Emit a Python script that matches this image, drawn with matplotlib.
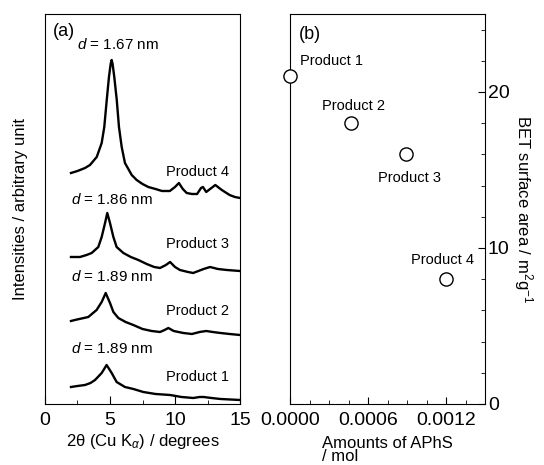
import numpy as np
import matplotlib
matplotlib.use('Agg')
import matplotlib.pyplot as plt
from matplotlib.ticker import MultipleLocator

plt.rcParams['font.family'] = ['Liberation Sans', 'DejaVu Sans']
plt.rcParams['mathtext.fontset'] = 'custom'
plt.rcParams['mathtext.rm'] = 'Liberation Sans'
plt.rcParams['mathtext.it'] = 'Liberation Sans:italic'

# XRD patterns (2theta / degrees, intensity in arbitrary units incl. offset)
tt4 = [2.0, 2.5, 3.08, 3.46, 3.98, 4.36, 4.56, 4.75, 4.92, 5.05, 5.13, 5.2, 5.33, 5.52, 5.69,
       5.9, 6.15, 6.67, 7.05, 7.5, 7.95, 8.5, 9.0, 9.6, 10.0, 10.3, 10.6, 10.9, 11.3, 11.7,
       12.0, 12.15, 12.4, 12.7, 13.1, 13.6, 14.2, 14.6, 15.0]
i4 = [231, 233, 236, 239, 247, 261, 277, 304, 327, 340, 344, 340, 327, 304, 277,
      257, 241, 229, 224, 220, 217, 215, 213, 213, 217, 221, 215, 211, 210, 210,
      216, 217, 212, 215, 219, 214, 209, 207, 206]

tt3 = [2.0, 2.69, 3.2, 3.59, 4.1, 4.36, 4.62, 4.79, 5.0, 5.26, 5.51, 6.03, 6.6, 7.18, 7.82,
       8.4, 8.85, 9.3, 9.62, 10.0, 10.38, 11.0, 11.4, 11.8, 12.2, 12.7, 13.3, 13.98, 15.0]
i3 = [147, 147, 149, 151, 157, 167, 181, 191, 181, 167, 157, 151, 147, 144, 140,
      137, 136, 139, 142, 137, 134, 132, 131, 133, 135, 137, 135, 134, 133]

tt2 = [2.0, 2.3, 3.33, 3.97, 4.36, 4.67, 5.0, 5.26, 5.64, 6.2, 6.79, 7.5, 8.2, 8.85, 9.2,
       9.49, 9.9, 10.64, 11.3, 11.9, 12.4, 12.9, 13.5, 14.2, 15.0]
i2 = [83, 84, 87, 94, 102, 111, 101, 92, 86, 82, 79, 75, 73, 72, 74,
      76, 73, 71, 70, 72, 73, 72, 71, 70, 69]

tt1 = [2.0, 2.5, 3.08, 3.5, 3.85, 4.36, 4.74, 5.13, 5.51, 6.15, 6.8, 7.56, 8.5, 9.62,
       10.5, 11.4, 11.9, 12.2, 12.8, 13.5, 15.0]
i1 = [17, 18, 19, 21, 24, 31, 39, 31, 22, 17, 15, 12, 10, 9,
      7, 6, 7, 7, 6, 5, 4]

# BET surface area vs amount of APhS
aphs = [0.0, 0.00047, 0.00089, 0.0012]
bet = [21.0, 18.0, 16.0, 8.0]
products = ['Product 1', 'Product 2', 'Product 3', 'Product 4']

fig = plt.figure(figsize=(5.44, 4.65), dpi=100)
ax1 = fig.add_axes([0.0827, 0.1312, 0.3585, 0.8387])
ax2 = fig.add_axes([0.5331, 0.1312, 0.3585, 0.8387])

for tt, ii in [(tt4, i4), (tt3, i3), (tt2, i2), (tt1, i1)]:
    ax1.plot(tt, ii, 'k-', lw=1.7, solid_joinstyle='round')

ax1.set_xlim(0, 15)
ax1.set_ylim(0, 390)
ax1.xaxis.set_major_locator(MultipleLocator(5))
ax1.xaxis.set_minor_locator(MultipleLocator(2.5))
ax1.set_yticks([])
ax1.tick_params(axis='x', which='major', direction='in', length=6, labelsize=14, pad=6)
ax1.tick_params(axis='x', which='minor', direction='in', length=3)
ax1.set_xlabel(r'2θ (Cu K$_{\alpha}$) / degrees', fontsize=12, labelpad=2)
ax1.set_ylabel('Intensities / arbitrary unit', fontsize=12, labelpad=12)

ax1.text(0.6, 372, '(a)', fontsize=13, va='center')
ax1.text(2.46, 359, r'$d$ = 1.67 nm', fontsize=11, va='center')
ax1.text(2.0, 204, r'$d$ = 1.86 nm', fontsize=11, va='center')
ax1.text(2.0, 127, r'$d$ = 1.89 nm', fontsize=11, va='center')
ax1.text(2.0, 55, r'$d$ = 1.89 nm', fontsize=11, va='center')
for y, s in zip([232, 160, 93, 27], ['Product 4', 'Product 3', 'Product 2', 'Product 1']):
    ax1.text(9.3, y, s, fontsize=10.5, va='center')

ax2.plot(aphs, bet, 'o', mfc='white', mec='black', ms=9.5, mew=1.0, clip_on=False, zorder=5)
ax2.set_xlim(0, 0.0015)
ax2.set_ylim(0, 25)
ax2.xaxis.set_major_locator(MultipleLocator(0.0006))
ax2.xaxis.set_minor_locator(MultipleLocator(0.00015))
ax2.yaxis.set_major_locator(MultipleLocator(10))
ax2.yaxis.set_minor_locator(MultipleLocator(2))
ax2.xaxis.set_major_formatter(plt.FuncFormatter(lambda v, p: '%.4f' % v))
ax2.yaxis.tick_right()
ax2.yaxis.set_label_position('right')
ax2.tick_params(axis='both', which='major', direction='in', length=5, labelsize=14, pad=6)
ax2.tick_params(axis='both', which='minor', direction='in', length=3)
ax2.tick_params(axis='y', which='both', left=False, right=True, pad=2)
ax2.set_xlabel('Amounts of APhS\n/ mol', fontsize=12, labelpad=5, linespacing=0.85,
               multialignment='left')
ax2.set_ylabel(r'BET surface area / m$^2$g$^{-1}$', fontsize=12, rotation=270, labelpad=18)

ax2.text(0.000069, 23.7, '(b)', fontsize=13, va='center')
text_pos = [(0.000077, 22.0), (0.000246, 19.1), (0.000677, 14.5), (0.00093, 9.2)]
for (x, y), s in zip(text_pos, products):
    ax2.text(x, y, s, fontsize=10.5, va='center')

fig.savefig('out.png', dpi=100)
